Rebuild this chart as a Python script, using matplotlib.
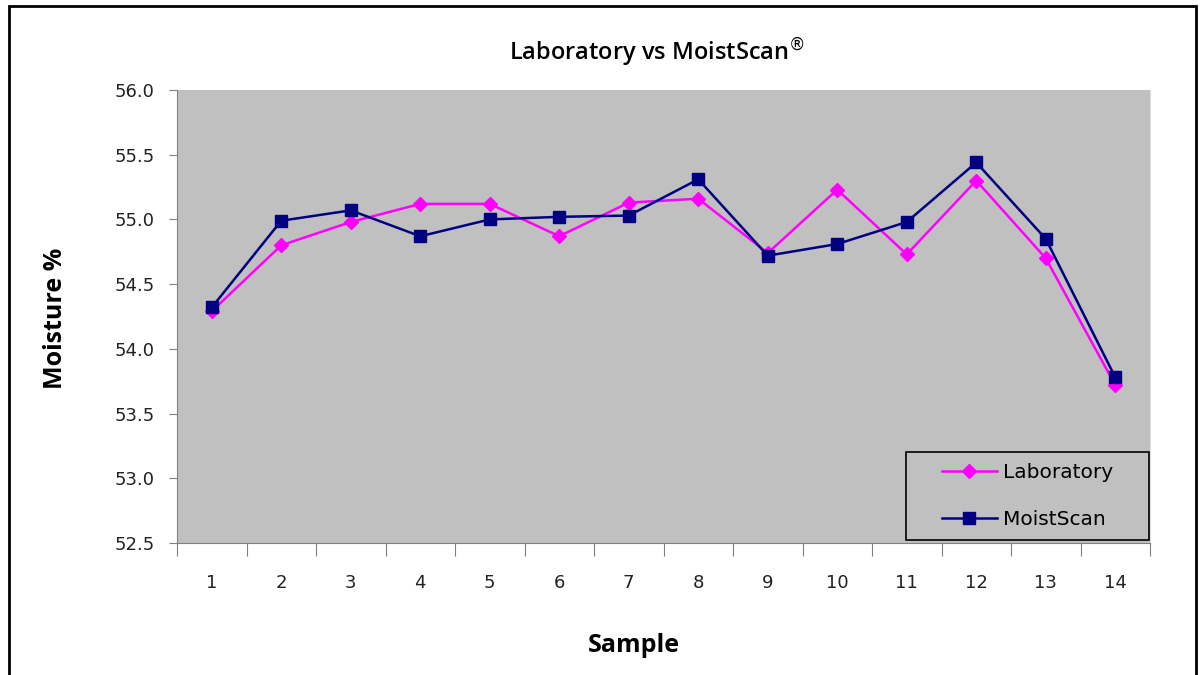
import numpy as np
import matplotlib
matplotlib.use('Agg')
from matplotlib import pyplot as plt
from matplotlib.patches import Rectangle
from matplotlib.ticker import FixedLocator, NullFormatter

samples = list(range(1, 15))
laboratory = [54.29, 54.80, 54.98, 55.12, 55.12, 54.87, 55.13,
              55.16, 54.74, 55.23, 54.73, 55.30, 54.70, 53.72]
moistscan = [54.32, 54.99, 55.07, 54.87, 55.00, 55.02, 55.03,
             55.31, 54.72, 54.81, 54.98, 55.44, 54.85, 53.78]

fig = plt.figure(figsize=(12.03, 6.75), dpi=100)
# outer chart frame
fig.patches.append(Rectangle((9/1203, -0.05), (1196-9)/1203, 1.05 - 6/675,
                             transform=fig.transFigure, fill=False,
                             edgecolor='black', lw=2))

ax = fig.add_axes([177/1203, 1-543/675, (1150-177)/1203, (543-90)/675])
ax.set_facecolor('#C0C0C0')

ax.plot(samples, laboratory, color='#FF00FF', marker='D', markersize=7,
        lw=1.8, label='Laboratory')
ax.plot(samples, moistscan, color='#000080', marker='s', markersize=8,
        lw=1.8, label='MoistScan')

ax.set_xlim(0.5, 14.5)
ax.set_ylim(52.5, 56.0)
ax.set_yticks(np.arange(52.5, 56.01, 0.5))
ax.set_yticklabels(['%.1f' % v for v in np.arange(52.5, 56.01, 0.5)])

# excel style: ticks between categories, labels centred
ax.xaxis.set_major_locator(FixedLocator(np.arange(0.5, 14.6, 1)))
ax.xaxis.set_major_formatter(NullFormatter())
ax.xaxis.set_minor_locator(FixedLocator(samples))
ax.set_xticklabels([str(s) for s in samples], minor=True)
ax.tick_params(axis='x', which='major', length=9, color='#808080', direction='out')
ax.tick_params(axis='x', which='minor', length=0, pad=22, labelsize=13, labelcolor='#222222')
ax.tick_params(axis='y', length=6, color='#808080', direction='out', pad=10,
               labelsize=13, labelcolor='#222222')

for s in ['left', 'bottom']:
    ax.spines[s].set_color('#808080')
ax.spines['top'].set_visible(False)
ax.spines['right'].set_color('#E0E0E0')

fig.text(657/1203, 1-52/675, r'Laboratory vs MoistScan$^{\circledR}$', ha='center', va='center',
         fontsize=17, family='Open Sans', fontweight='semibold')
fig.text(55/1203, 1-318/675, 'Moisture %', ha='center', va='center', rotation=90,
         fontsize=18, family='Open Sans', fontweight='bold')
fig.text(634/1203, 1-645/675, 'Sample', ha='center', va='center',
         fontsize=18, family='Open Sans', fontweight='bold')

# legend box drawn separately so it can be wider than the entries
bx, by, bw, bh = (906-177)/973, (543-540)/453, 243/973, 88/453
ax.add_patch(Rectangle((bx, by), bw, bh, transform=ax.transAxes,
                       facecolor='#C0C0C0', edgecolor='black', lw=1.2, zorder=5))
leg = ax.legend(loc='center', bbox_to_anchor=(bx + bw/2, by + bh/2), frameon=False,
                fontsize=14.5, handlelength=2.7, handletextpad=0.3,
                labelspacing=1.35)
leg.set_zorder(6)

fig.savefig('out.png', dpi=100)
